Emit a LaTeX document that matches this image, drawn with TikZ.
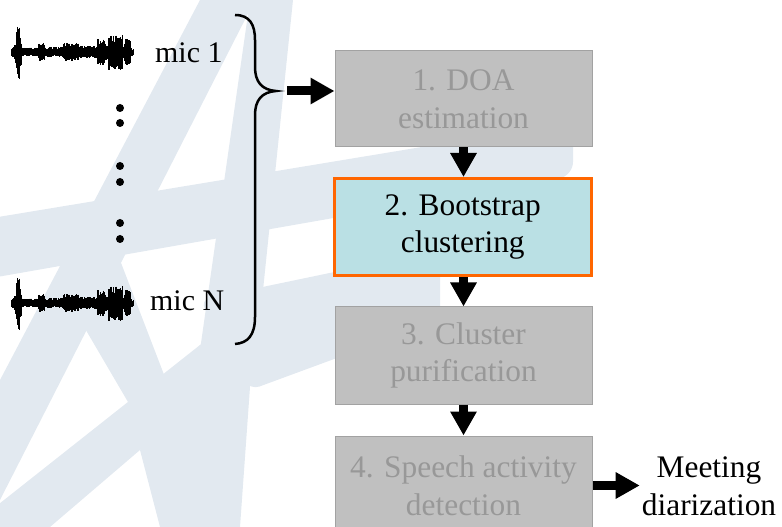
\documentclass[tikz,border=0pt]{standalone}
\usepackage{fontspec}
\setmainfont{LiberationSerif}[Extension=.ttf, UprightFont=*-Regular, BoldFont=*-Bold]
\newfontfamily\timesface{LiberationSerif}[Extension=.ttf, UprightFont=*-Regular]
\usetikzlibrary{arrows.meta}

\definecolor{wm}{RGB}{226,233,240}
\definecolor{boxgray}{RGB}{192,192,192}
\definecolor{boxedge}{RGB}{162,162,162}
\definecolor{boxtext}{RGB}{152,152,152}
\definecolor{cyanfill}{RGB}{186,224,228}
\definecolor{orangeedge}{RGB}{255,102,0}

\tikzset{
  stagebox/.style={draw=boxedge, fill=boxgray, text=boxtext, line width=1bp,
    minimum width=257bp, align=center, inner sep=0pt,
    font=\timesface\fontsize{31.5}{38}\selectfont},
  activebox/.style={stagebox, draw=orangeedge, fill=cyanfill, text=black, line width=3bp},
  flowarrow/.style={line width=9bp, -{Triangle[length=24bp,width=25bp]}},
  mictext/.style={font=\timesface\fontsize{30}{36}\selectfont, inner sep=0pt},
  wmband/.style={fill=wm},
  wavepic/.pic={
    \pgfmathsetseed{1234}
    \fill (0,-2.2) rectangle (120,2.2);
    \foreach \a/\b/\amp in {0/2/5, 3/4/14, 5/7/31, 8/9/14, 10/26/4.5, 27/32/10,
        33/50/5, 51/66/9, 67/85/6, 86/92/13, 93/96/8, 97/110/18, 111/112/6,
        113/118/14, 119/121/4}{
      \foreach \x in {\a,...,\b}{
        \pgfmathsetmacro\up{\amp*(0.45+0.55*rnd)}
        \pgfmathsetmacro\dn{\amp*(0.45+0.55*rnd)}
        \draw[line width=1.2bp] (\x,-\up) -- (\x,\dn);
        \pgfmathsetmacro\up{\amp*(0.45+0.55*rnd)}
        \pgfmathsetmacro\dn{\amp*(0.45+0.55*rnd)}
        \draw[line width=1.2bp] (\x+0.5,-\up) -- (\x+0.5,\dn);
      }
    }
  }
}

\begin{document}
\begin{tikzpicture}[x=1bp, y=-1bp]
\useasboundingbox (0,0) rectangle (782,527);
\clip (0,0) rectangle (782,527);

% watermark logo in the background
\fill[wmband] (200,0) -- (255,0) -- (0,500) -- (0,380) -- cycle;
\fill[wmband] (250,0) -- (293,0) -- (262,300) -- (200,350) -- cycle;
\fill[wmband] (140,450) -- (200,345) -- (262,300) -- (250,387) -- (240,527) -- (160,527) -- cycle;
\fill[wmband, rounded corners=14bp] (-20,220) -- (573,122) -- (573,176) -- (-20,280) -- cycle;
\fill[wmband] (-20,519) -- (200,345) -- (215,380) -- (140,450) -- (50,527) -- (-20,527) -- cycle;
\fill[wmband] (80,320) -- (118,255) -- (168,385) -- (128,402) -- cycle;
\fill[wmband, rounded corners=10bp] (200,300) -- (440,250) -- (440,320) -- (250,390) -- cycle;

% microphone signals
\pic (wave1) at (12,52) {wavepic};
\pic (waveN) at (12,303) {wavepic};
\node[mictext, anchor=base west] (mic1) at (155,63) {mic 1};
\node[mictext, anchor=base west] (micN) at (150,311) {mic N};
\foreach \y in {108,123,166,182,223,239}
  \fill (120,\y) circle (4bp);

% brace grouping the channels
\draw[line width=2.5bp] (235,15) .. controls (250,15) and (255,25) .. (255,40)
  -- (255,67) .. controls (255,82) and (262,90) .. (276,91) coordinate (tip)
  .. controls (262,92) and (255,100) .. (255,115)
  -- (255,317) .. controls (255,335) and (248,343) .. (235,344);
\coordinate (inlet) at (287,91);

% processing stages
\node[stagebox, minimum height=96bp] (b1) at (463.5,99) {1. DOA\\estimation};
\node[activebox, minimum width=256.5bp, minimum height=97bp] (b2) at (462.75,227)
  {2. Bootstrap\\clustering};
\node[stagebox, minimum height=97bp] (b3) at (463.5,355.5) {3. Cluster\\purification};
\node[stagebox, minimum height=99bp] (b4) at (463.5,485.5) {4. Speech activity\\detection};
\node[align=center, inner sep=2bp, font=\timesface\fontsize{31.5}{38}\selectfont] (out) at (709,486.5)
  {Meeting\\diarization};

% flow
\draw[flowarrow] (inlet) -- (inlet -| b1.west);
\draw[flowarrow] (b1.south) -- (b1.south |- b2.north);
\draw[flowarrow] (b2.south -| b1.south) -- (b1.south |- b3.north);
\draw[flowarrow] (b3.south) -- (b4.north);
\draw[flowarrow] (b4.east) -- (b4.east -| out.west);
\end{tikzpicture}
\end{document}
